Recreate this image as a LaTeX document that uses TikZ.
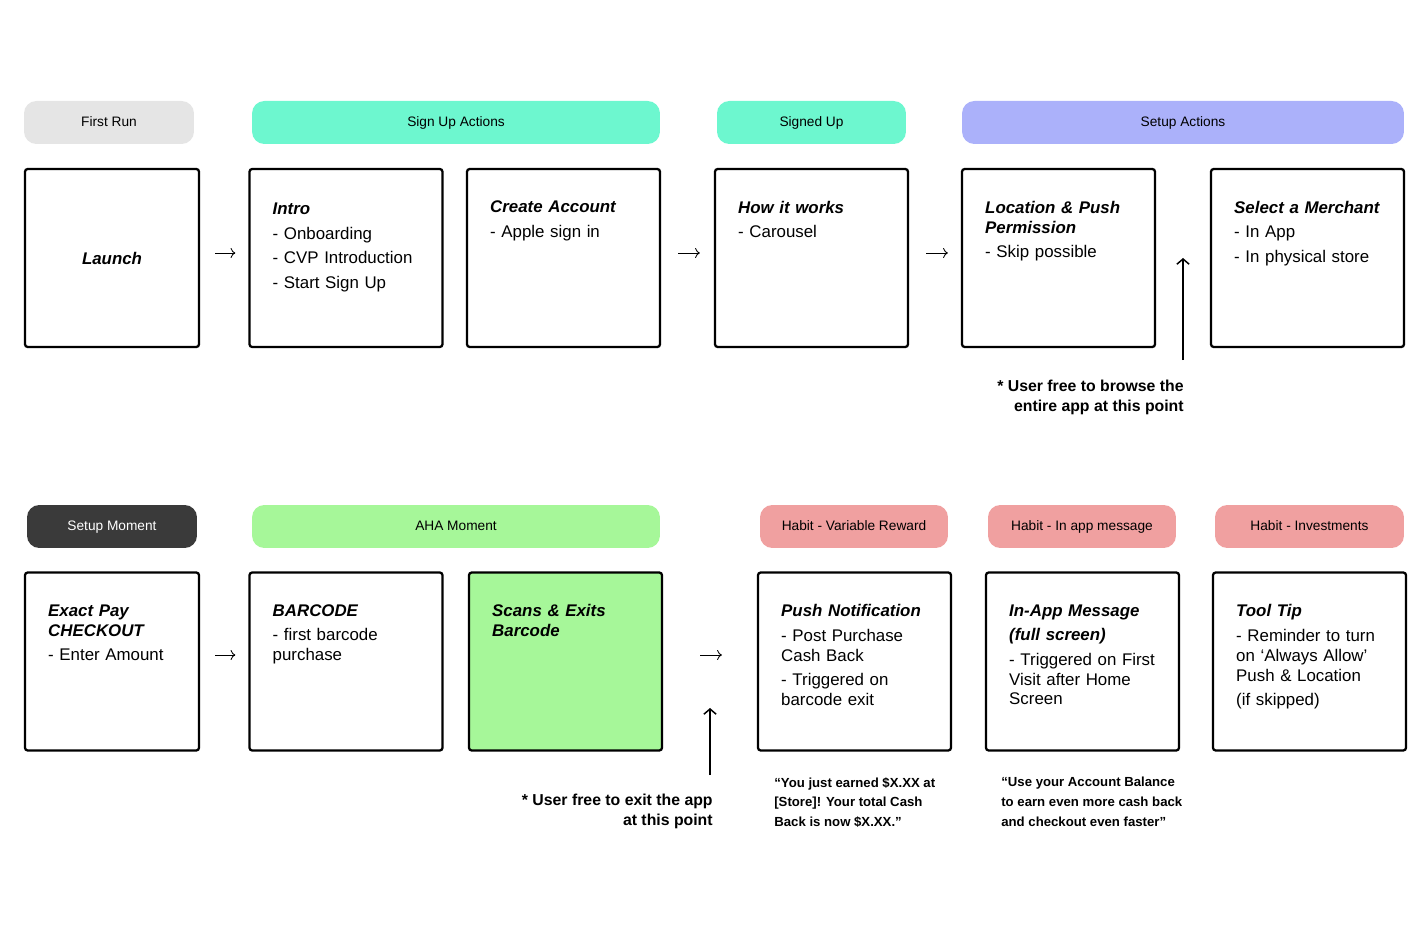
\documentclass[tikz,border=0pt]{standalone}
\usepackage{fontspec}
\setmainfont{Liberation Sans}
\usetikzlibrary{shapes,arrows,arrows.meta,positioning,calc}
\usepackage{xcolor}
\definecolor{runGray}{HTML}{E5E5E5}
\definecolor{signMint}{HTML}{6DF7CF}
\definecolor{setupBlue}{HTML}{ABB1FA}
\definecolor{momentDark}{HTML}{3A3A3A}
\definecolor{ahaGreen}{HTML}{A6F799}
\definecolor{habitPink}{HTML}{F0A0A0}
\newcommand{\pbreak}{\\[2.6pt]}
\newcommand{\stitle}[1]{\textbf{\textit{#1}}}
\tikzset{
    tag/.style={rectangle, rounded corners=7pt, minimum height=0.86cm, inner sep=0pt, text height=6pt, text depth=1.7pt, font=\fontsize{7.8}{9}\selectfont},
    screen/.style={rectangle, draw, line width=1.3pt, rounded corners=1.5pt, minimum width=3.86cm, minimum height=3.56cm, inner sep=0pt},
    blurb/.style={text width=3.3cm, align=left, inner sep=0pt, font=\fontsize{9.6}{11.3}\selectfont},
    note/.style={align=right, inner sep=0pt, font=\bfseries\fontsize{9}{11.3}\selectfont},
    quote/.style={align=left, inner sep=0pt, font=\bfseries\fontsize{7.5}{11.3}\selectfont},
    flow/.style={draw, ->, line width=0.5pt, shorten <=0.3cm, shorten >=0.26cm},
    rise/.style={draw, -{Straight Barb[length=3pt,width=7pt]}, line width=0.85pt}
}

\begin{document}
\begin{tikzpicture}[x=0.02cm, y=-0.02cm]
    \useasboundingbox (0,0) rectangle (1428,932);

    % first row
    \node [tag, fill=runGray, minimum width=3.4cm] (firstrun) at (109,122.5) {First Run};
    \node [tag, fill=signMint, minimum width=8.16cm] (signupact) at (456,122.5) {Sign Up Actions};
    \node [tag, fill=signMint, minimum width=3.78cm] (signedup) at (811.5,122.5) {Signed Up};
    \node [tag, fill=setupBlue, minimum width=8.84cm] (setupact) at (1183,122.5) {Setup Actions};

    \node [screen, minimum width=3.48cm, font=\fontsize{9.6}{11.3}\selectfont] (launch) at (112,258) {\stitle{Launch}};
    \node [screen] (intro) at (346,258) {};
    \node [screen] (create) at (563.5,258) {};
    \node [screen] (howit) at (811.5,258) {};
    \node [screen] (locpush) at (1058.5,258) {};
    \node [screen] (merchant) at (1307.5,258) {};

    \node [blurb, below right=0.7cm and 0.48cm of intro.north west] (intro-t) {\stitle{Intro}\pbreak - Onboarding\pbreak - CVP Introduction\pbreak - Start Sign Up};
    \node [blurb, below right=0.66cm and 0.48cm of create.north west] (create-t) {\stitle{Create Account}\pbreak - Apple sign in};
    \node [blurb, below right=0.66cm and 0.48cm of howit.north west] (howit-t) {\stitle{How it works}\pbreak - Carousel};
    \node [blurb, below right=0.66cm and 0.48cm of locpush.north west] (locpush-t) {\stitle{Location \& Push}\\\stitle{Permission}\pbreak - Skip possible};
    \node [blurb, below right=0.66cm and 0.48cm of merchant.north west] (merchant-t) {\stitle{Select a Merchant}\pbreak - In App\pbreak - In physical store};

    \node [note, anchor=north east] (browse) at (1184,380) {* User free to browse the\\entire app at this point};
    \coordinate (browsetip) at (1183,258);

    % second row
    \node [tag, fill=momentDark, text=white, minimum width=3.4cm] (setupmom) at (112,526.5) {Setup Moment};
    \node [tag, fill=ahaGreen, minimum width=8.16cm] (aha) at (456,526.5) {AHA Moment};
    \node [tag, fill=habitPink, minimum width=3.76cm] (habitvar) at (854,526.5) {Habit - Variable Reward};
    \node [tag, fill=habitPink, minimum width=3.76cm] (habitmsg) at (1082,526.5) {Habit - In app message};
    \node [tag, fill=habitPink, minimum width=3.78cm] (habitinv) at (1309.5,526.5) {Habit - Investments};

    \node [screen, minimum width=3.48cm] (exactpay) at (112,661.5) {};
    \node [screen] (barcode) at (346,661.5) {};
    \node [screen, fill=ahaGreen] (scans) at (565.5,661.5) {};
    \node [screen] (pushnote) at (854.5,661.5) {};
    \node [screen] (inappmsg) at (1082.5,661.5) {};
    \node [screen] (tooltip) at (1309.5,661.5) {};

    \node [blurb, below right=0.66cm and 0.48cm of exactpay.north west] (exactpay-t) {\stitle{Exact Pay}\\\stitle{CHECKOUT}\pbreak - Enter Amount};
    \node [blurb, below right=0.66cm and 0.48cm of barcode.north west] (barcode-t) {\stitle{BARCODE}\pbreak - first barcode\\purchase};
    \node [blurb, below right=0.66cm and 0.48cm of scans.north west] (scans-t) {\stitle{Scans \& Exits}\\\stitle{Barcode}};
    \node [blurb, below right=0.66cm and 0.48cm of pushnote.north west] (pushnote-t) {\stitle{Push Notification}\pbreak - Post Purchase\\Cash Back\pbreak - Triggered on\\barcode exit};
    \node [blurb, below right=0.66cm and 0.48cm of inappmsg.north west] (inappmsg-t) {\stitle{In-App Message}\pbreak\stitle{(full screen)}\pbreak - Triggered on First\\Visit after Home\\Screen};
    \node [blurb, below right=0.66cm and 0.48cm of tooltip.north west] (tooltip-t) {\stitle{Tool Tip}\pbreak - Reminder to turn\\on ‘Always Allow’\\Push \& Location\pbreak (if skipped)};

    \node [note, anchor=north east] (exitnote) at (713,794) {* User free to exit the app\\at this point};
    \coordinate (exittip) at (710,708);
    \node [quote, anchor=north west] (rewardq) at (774,777) {“You just earned \$X.XX at\\{}[Store]! Your total Cash\\Back is now \$X.XX.”};
    \node [quote, anchor=north west] (msgq) at (1001,777) {“Use your Account Balance\\to earn even more cash back\\and checkout even faster”};

    \path [flow] ([yshift=0.1cm]launch.east) -- ([yshift=0.1cm]intro.west);
    \path [flow, shorten <=0.34cm, shorten >=0.28cm] ([yshift=0.1cm]create.east) -- ([yshift=0.1cm]howit.west);
    \path [flow, shorten <=0.34cm] ([yshift=0.1cm]howit.east) -- ([yshift=0.1cm]locpush.west);
    \path [rise, shorten <=0.4cm] (browsetip |- browse.north) -- (browsetip);
    \path [flow] ([yshift=0.13cm]exactpay.east) -- ([yshift=0.13cm]barcode.west);
    \path [flow, shorten <=0.74cm, shorten >=0.7cm] ([yshift=0.13cm]scans.east) -- ([yshift=0.13cm]pushnote.west);
    \path [rise, shorten <=0.38cm] (exittip |- exitnote.north) -- (exittip);
\end{tikzpicture}
\end{document}
